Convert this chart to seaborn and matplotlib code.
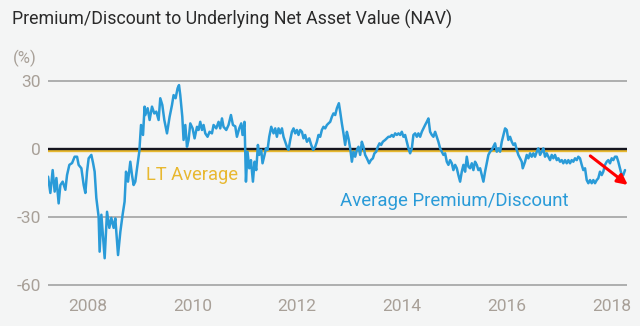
import numpy as np
import pandas as pd
import matplotlib
matplotlib.use("Agg")
import matplotlib.pyplot as plt
import seaborn as sns

# Weekly-ish premium/discount to NAV (%), dates as decimal years
years = [
    2007.251, 2007.295, 2007.339, 2007.377, 2007.410, 2007.453, 2007.486, 2007.530, 2007.581, 2007.613,
    2007.657, 2007.709, 2007.758, 2007.804, 2007.834, 2007.886, 2007.930, 2007.962, 2007.994, 2008.025,
    2008.076, 2008.109, 2008.139, 2008.171, 2008.215, 2008.234, 2008.267, 2008.291, 2008.330, 2008.375,
    2008.419, 2008.457, 2008.501, 2008.533, 2008.585, 2008.629, 2008.672, 2008.710, 2008.737, 2008.775,
    2008.819, 2008.851, 2008.882, 2008.914, 2008.947, 2008.990, 2009.023, 2009.061, 2009.091, 2009.105,
    2009.149, 2009.187, 2009.232, 2009.276, 2009.314, 2009.358, 2009.390, 2009.429, 2009.467, 2009.518,
    2009.568, 2009.613, 2009.644, 2009.682, 2009.720, 2009.747, 2009.771, 2009.810, 2009.834, 2009.867,
    2009.899, 2009.930, 2009.962, 2010.006, 2010.044, 2010.090, 2010.120, 2010.152, 2010.185, 2010.215,
    2010.248, 2010.291, 2010.330, 2010.375, 2010.406, 2010.457, 2010.501, 2010.533, 2010.566, 2010.596,
    2010.648, 2010.691, 2010.737, 2010.775, 2010.819, 2010.851, 2010.895, 2010.933, 2010.958, 2010.996,
    2011.023, 2011.053, 2011.086, 2011.118, 2011.156, 2011.187, 2011.219, 2011.251, 2011.276, 2011.314,
    2011.339, 2011.377, 2011.404, 2011.434, 2011.467, 2011.505, 2011.549, 2011.581, 2011.613, 2011.644,
    2011.676, 2011.709, 2011.739, 2011.771, 2011.804, 2011.834, 2011.867, 2011.899, 2011.930, 2011.962,
    2011.994, 2012.025, 2012.057, 2012.090, 2012.120, 2012.152, 2012.185, 2012.229, 2012.267, 2012.305,
    2012.343, 2012.375, 2012.406, 2012.438, 2012.470, 2012.501, 2012.533, 2012.566, 2012.596, 2012.629,
    2012.661, 2012.691, 2012.724, 2012.756, 2012.794, 2012.819, 2012.851, 2012.882, 2012.914, 2012.947,
    2012.977, 2013.010, 2013.042, 2013.072, 2013.105, 2013.137, 2013.168, 2013.200, 2013.232, 2013.263,
    2013.295, 2013.328, 2013.371, 2013.404, 2013.442, 2013.472, 2013.505, 2013.537, 2013.568, 2013.600,
    2013.632, 2013.676, 2013.709, 2013.739, 2013.771, 2013.804, 2013.834, 2013.867, 2013.899, 2013.930,
    2013.962, 2013.994, 2014.025, 2014.057, 2014.090, 2014.120, 2014.152, 2014.185, 2014.215, 2014.248,
    2014.280, 2014.310, 2014.343, 2014.375, 2014.406, 2014.438, 2014.470, 2014.501, 2014.533, 2014.566,
    2014.596, 2014.629, 2014.661, 2014.691, 2014.724, 2014.756, 2014.787, 2014.819, 2014.851, 2014.882,
    2014.914, 2014.947, 2014.977, 2015.010, 2015.042, 2015.072, 2015.105, 2015.137, 2015.168, 2015.200,
    2015.232, 2015.263, 2015.295, 2015.328, 2015.358, 2015.390, 2015.423, 2015.453, 2015.486, 2015.518,
    2015.549, 2015.581, 2015.613, 2015.644, 2015.676, 2015.709, 2015.739, 2015.771, 2015.804, 2015.834,
    2015.867, 2015.899, 2015.930, 2015.962, 2015.994, 2016.025, 2016.057, 2016.090, 2016.120, 2016.152,
    2016.185, 2016.215, 2016.248, 2016.280, 2016.299, 2016.343, 2016.375, 2016.406, 2016.438, 2016.470,
    2016.501, 2016.533, 2016.566, 2016.596, 2016.629, 2016.661, 2016.691, 2016.724, 2016.756, 2016.787,
    2016.819, 2016.851, 2016.882, 2016.914, 2016.947, 2016.977, 2017.010, 2017.042, 2017.072, 2017.105,
    2017.137, 2017.168, 2017.200, 2017.232, 2017.263, 2017.295, 2017.328, 2017.358, 2017.390, 2017.423,
    2017.453, 2017.486, 2017.518, 2017.549, 2017.581, 2017.613, 2017.644, 2017.676, 2017.709, 2017.739,
    2017.771, 2017.804, 2017.834, 2017.867, 2017.899, 2017.930, 2017.962, 2017.994, 2018.025, 2018.057,
    2018.090, 2018.120, 2018.152, 2018.185, 2018.215, 2018.248,
]
premium = [
    -12.2, -19.4, -9.3, -18.8, -12.8, -24.0, -15.9, -14.4, -18.0, -11.5,
    -7.0, -6.2, -3.4, -3.4, -7.0, -8.5, -15.9, -19.4, -10.0, -4.1,
    -2.6, -6.2, -10.0, -21.6, -29.9, -45.3, -29.0, -36.5, -48.2, -27.7,
    -34.8, -30.4, -34.8, -30.6, -46.8, -36.5, -29.0, -23.2, -10.0, -14.4,
    -5.6, -11.5, -15.9, -14.4, -8.5, -1.2, 10.6, 6.2, 18.7, 15.0,
    18.0, 12.8, 18.7, 15.7, 16.5, 12.8, 22.4, 19.4, 12.8, 6.9,
    14.2, 19.4, 23.8, 22.4, 26.8, 28.2, 23.8, 14.2, 4.0, 10.6,
    1.0, 4.0, 11.3, 9.1, 4.7, 9.8, 8.4, 12.0, 8.4, 10.6,
    6.9, 5.4, 7.6, 6.9, 10.6, 9.1, 12.0, 9.1, 13.5, 9.8,
    8.4, 10.6, 15.0, 10.6, 10.0, 5.4, 9.1, 11.3, 6.2, 12.0,
    -14.4, -1.2, -8.5, -4.9, -14.4, -5.6, -9.3, 1.8, -2.6, -0.4,
    -6.3, -2.6, 0.3, -0.4, 5.4, 9.8, 6.9, 9.1, 5.4, 9.1,
    6.9, 9.1, 5.4, 3.2, 1.0, -0.4, 4.0, 7.6, 9.1, 6.9,
    8.4, 6.2, 8.4, 7.6, 4.7, 6.2, 3.2, 4.7, 1.8, -0.4,
    1.0, 3.2, 6.2, 5.4, 8.4, 9.8, 9.1, 10.6, 11.3, 12.0,
    14.2, 15.7, 15.0, 18.0, 20.2, 16.5, 11.3, 6.9, 1.8, 7.6,
    4.7, 0.3, -5.6, -1.2, -3.4, -0.4, 1.0, -2.6, 3.2, 1.0,
    -2.6, -4.1, -6.3, -4.9, -4.1, -1.9, -1.2, 1.0, 2.5, 1.8,
    3.2, 4.0, 4.7, 5.4, 5.4, 6.2, 5.4, 6.9, 6.2, 6.9,
    6.2, 7.6, 5.4, 6.2, 3.2, 0.3, -1.9, 0.3, 6.2, 6.9,
    5.4, 6.9, 5.4, 7.6, 9.1, 10.6, 12.0, 13.5, 7.6, 6.2,
    5.4, 7.6, 5.4, 3.2, 0.3, -1.2, -2.6, -1.9, -5.6, -7.0,
    -4.9, -6.3, -9.3, -7.0, -8.5, -11.5, -14.4, -10.0, -7.0, -10.0,
    -3.4, -7.8, -8.5, -6.3, -9.3, -5.6, -7.0, -9.3, -8.5, -11.5,
    -14.4, -10.0, -6.3, -2.6, -1.2, -0.4, 1.0, 2.5, -1.2, 0.3,
    -1.2, 3.2, 6.2, 9.1, 8.4, 4.0, 5.4, 3.2, 1.8, 2.5,
    -0.4, -2.6, -4.1, -5.6, -8.5, -5.6, -2.6, -4.1, -1.9, -3.4,
    -1.9, -3.4, -1.2, 0.3, -2.6, -1.2, 0.3, -3.4, -1.9, -3.4,
    -4.9, -2.6, -4.1, -2.6, -4.9, -4.1, -5.6, -4.9, -6.3, -4.9,
    -6.3, -4.9, -6.3, -4.9, -5.6, -4.1, -4.9, -3.4, -4.1, -7.0,
    -9.3, -8.5, -13.7, -15.1, -13.7, -15.1, -13.7, -15.1, -13.7, -12.9,
    -10.0, -11.5, -10.0, -7.0, -5.6, -4.9, -6.3, -4.1, -4.9, -3.4,
    -3.4, -5.6, -8.5, -11.5, -11.5, -9.3,
]
lt_average = -1.0
y_ticks = [30, 0, -30, -60]
x_ticks = [2008, 2010, 2012, 2014, 2016, 2018]
title = "Premium/Discount to Underlying Net Asset Value (NAV)"

BG = "#f4f5f5"
BLUE = "#2a9bd8"
GOLD = "#e8b830"
TICK = "#a8a098"

df = pd.DataFrame({"year": years, "premium": premium})

sns.set_theme(style="white")
plt.rcParams["font.family"] = ["Roboto", "DejaVu Sans"]

fig = plt.figure(figsize=(6.4, 3.26), dpi=100, facecolor=BG)
ax = fig.add_axes([48 / 640, 1 - 296.3 / 326, (627 - 48) / 640, (296.3 - 69.7) / 326])
ax.set_facecolor(BG)

# horizontal reference lines
for v in y_ticks:
    if v == 0:
        continue
    ax.axhline(v, color="#9b9b9b", lw=1.1, zorder=1)
ax.axhline(lt_average, color=GOLD, lw=1.7, zorder=2)
ax.axhline(0, color="#15151f", lw=1.7, zorder=3)

sns.lineplot(data=df, x="year", y="premium", ax=ax, color=BLUE, lw=1.8,
             zorder=4, estimator=None, sort=False)

ax.set_xlim(2007.25, 2018.286)
ax.set_ylim(-65, 35)
ax.set_xticks(x_ticks)
ax.set_xticklabels([str(t) for t in x_ticks])
ax.set_yticks(y_ticks)
ax.set_yticklabels([str(t) for t in y_ticks])
ax.tick_params(axis="both", length=0, labelsize=12.5, labelcolor=TICK)
ax.tick_params(axis="y", pad=5)
ax.tick_params(axis="x", pad=2)
ax.set_xlabel("")
ax.set_ylabel("")
for s in ax.spines.values():
    s.set_visible(False)

# in-chart labels
ax.text(2009.12, -11.5, "LT Average", color=GOLD, fontsize=13.2, va="center", ha="left")
ax.text(2012.82, -23.0, "Average Premium/Discount", color=BLUE, fontsize=13.4,
        va="center", ha="left")

# trend arrow
ax.annotate("", xy=(2018.343, -16.6), xytext=(2017.545, -2.3),
            arrowprops=dict(arrowstyle="-|>", color="#ff0000", lw=2.2,
                            mutation_scale=15), annotation_clip=False, zorder=6)

fig.text(12 / 640, 1 - 19 / 326, title, fontsize=12.8, color="#2a2a2a",
         va="center", ha="left")
fig.text(13 / 640, 1 - 58 / 326, "(%)", fontsize=12, color=TICK,
         va="center", ha="left")

fig.savefig("out.png", dpi=100, facecolor=BG)
